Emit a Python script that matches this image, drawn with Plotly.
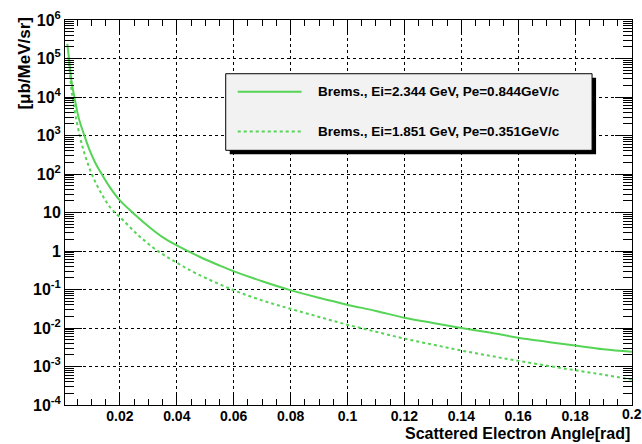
import plotly.graph_objects as go

# Scattered electron angle [rad] and cross-section [ub/MeV/sr]
theta_a = [0.0015, 0.0021, 0.0030, 0.0040, 0.0055, 0.0075, 0.0095, 0.0115, 0.0136,
           0.0165, 0.020, 0.0247, 0.0305, 0.035, 0.040, 0.048, 0.055, 0.0594, 0.070,
           0.0796, 0.090, 0.0995, 0.110, 0.120, 0.130, 0.140, 0.150, 0.160, 0.170,
           0.180, 0.190, 0.200]
xsec_a = [2.4e5, 1.0e5, 2.6e4, 1.0e4, 2.9e3, 1.0e3, 390, 185, 100,
          45, 20.6, 9.6, 4.1, 2.3, 1.4, 0.71, 0.42, 0.31, 0.164,
          0.098, 0.061, 0.041, 0.0277, 0.0185, 0.0135, 0.010, 0.0076, 0.0056, 0.0044,
          0.0035, 0.0028, 0.0024]

theta_b = [0.0019, 0.0025, 0.0030, 0.0036, 0.0045, 0.0062, 0.0071, 0.0085, 0.0101,
           0.0120, 0.0141, 0.0160, 0.0182, 0.020, 0.0259, 0.0329, 0.0399, 0.0469,
           0.0594, 0.070, 0.0796, 0.090, 0.0995, 0.110, 0.120, 0.130, 0.140, 0.150,
           0.160, 0.170, 0.180, 0.190, 0.200]
xsec_b = [1.1e5, 3.5e4, 1.5e4, 7.6e3, 3.0e3, 780, 440, 207, 100,
          50, 26, 15.5, 10, 7.6, 2.8, 1.05, 0.5, 0.26,
          0.10, 0.052, 0.032, 0.0194, 0.0124, 0.0080, 0.0053, 0.0037, 0.0026, 0.0019,
          0.0014, 0.00105, 0.0008, 0.00061, 0.00046]

label_a = "Brems., Ei=2.344 GeV, Pe=0.844GeV/c"
label_b = "Brems., Ei=1.851 GeV, Pe=0.351GeV/c"

x_ticks = [0.02, 0.04, 0.06, 0.08, 0.1, 0.12, 0.14, 0.16, 0.18]
x_ticktext = ["0.02", "0.04", "0.06", "0.08", "0.1", "0.12", "0.14", "0.16", "0.18"]
x_last_tick = 0.2
x_last_text = "0.2"
y_exps = [-4, -3, -2, -1, 0, 1, 2, 3, 4, 5, 6]

GREEN = "#55d455"
FONT = "Liberation Sans, Arial, sans-serif"

W, H = 642, 444
ML, MR, MT, MB = 65, 9, 18, 39
PW, PH = W - ML - MR, H - MT - MB


def px(xp):
    return (xp - ML) / PW


def py(yp):
    return (H - MB - yp) / PH


def ylabel(e):
    if e == 0:
        return "<b>1</b>"
    if e == 1:
        return "<b>10</b>"
    return "<b>10<sup>%d</sup></b>" % e


fig = go.Figure()
fig.add_trace(go.Scatter(x=theta_a, y=xsec_a, mode="lines", name=label_a,
                         line=dict(color=GREEN, width=2, shape="spline")))
fig.add_trace(go.Scatter(x=theta_b, y=xsec_b, mode="lines", name=label_b,
                         line=dict(color=GREEN, width=2, dash="3px,3px", shape="spline")))

# legend box with drop shadow
bx0, bx1, by0, by1 = 226, 593, 72, 149
shapes = [
    dict(type="rect", xref="paper", yref="paper", x0=px(bx0 + 4), x1=px(bx1 + 4),
         y0=py(by1 + 4), y1=py(by0 + 4), fillcolor="black", line=dict(width=0)),
    dict(type="rect", xref="paper", yref="paper", x0=px(bx0), x1=px(bx1),
         y0=py(by1), y1=py(by0), fillcolor="#f2f2f2", line=dict(color="black", width=1)),
    dict(type="line", xref="paper", yref="paper", x0=px(238), x1=px(302),
         y0=py(90), y1=py(90), line=dict(color=GREEN, width=2)),
    dict(type="line", xref="paper", yref="paper", x0=px(238), x1=px(302),
         y0=py(130), y1=py(130), line=dict(color=GREEN, width=2, dash="3px,3px")),
]
annotations = [
    dict(xref="paper", yref="paper", x=px(316), y=py(90), text="<b>%s</b>" % label_a,
         showarrow=False, xanchor="left", yanchor="middle",
         font=dict(family=FONT, size=13.5, color="black")),
    dict(xref="paper", yref="paper", x=px(316), y=py(130), text="<b>%s</b>" % label_b,
         showarrow=False, xanchor="left", yanchor="middle",
         font=dict(family=FONT, size=13.5, color="black")),
    # last x tick label sits on the frame edge and runs off the page
    dict(xref="x", yref="paper", x=x_last_tick, y=py(414.5), text="<b>%s</b>" % x_last_text,
         showarrow=False, xanchor="center", yanchor="middle",
         font=dict(family=FONT, size=14, color="black")),
    dict(xref="paper", yref="paper", x=1.0, y=py(434), text="<b>Scattered Electron Angle[rad]</b>",
         showarrow=False, xanchor="right", yanchor="middle",
         font=dict(family=FONT, size=16, color="black")),
    dict(xref="paper", yref="paper", x=px(24), y=1.0 + 5 / PH, text="<b>[\u03bcb/MeV/sr]</b>",
         showarrow=False, xanchor="center", yanchor="top", textangle=-90,
         font=dict(family=FONT, size=17, color="black")),
]

fig.update_layout(
    width=W, height=H,
    margin=dict(l=ML, r=MR, t=MT, b=MB),
    paper_bgcolor="white", plot_bgcolor="white",
    showlegend=False,
    shapes=shapes, annotations=annotations,
    font=dict(family=FONT, color="black"),
)
fig.update_xaxes(
    range=[0.0007, 0.2], tickvals=x_ticks, ticktext=["<b>%s</b>" % t for t in x_ticktext],
    tickfont=dict(family=FONT, size=14, color="black"),
    ticklabelstandoff=-2,
    ticks="inside", ticklen=12, tickcolor="black", tickwidth=1,
    minor=dict(dtick=0.005, tick0=0, ticks="inside", ticklen=6, tickcolor="black", showgrid=False),
    showgrid=True, gridcolor="black", griddash="dot", gridwidth=1,
    showline=True, linecolor="black", linewidth=1, mirror="allticks",
    zeroline=False,
)
fig.update_yaxes(
    type="log", range=[-4, 6],
    tickvals=[10.0 ** e for e in y_exps], ticktext=[ylabel(e) for e in y_exps],
    tickfont=dict(family=FONT, size=16, color="black"),
    ticks="inside", ticklen=17, tickcolor="black", tickwidth=1,
    minor=dict(dtick="D1", ticks="inside", ticklen=9, tickcolor="black", showgrid=False),
    showgrid=True, gridcolor="black", griddash="dot", gridwidth=1,
    showline=True, linecolor="black", linewidth=1, mirror="allticks",
    zeroline=False,
)

fig.write_html("out.html")
